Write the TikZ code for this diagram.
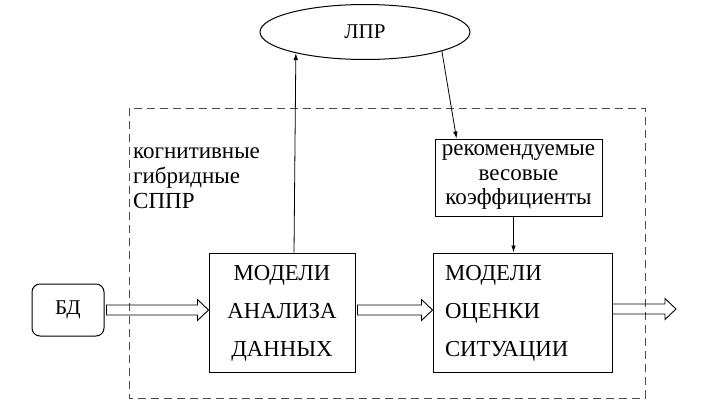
\documentclass[tikz,border=0pt]{standalone}
\usepackage{fontspec}
\setmainfont{Liberation Serif}
\usetikzlibrary{arrows.meta, calc, positioning, shapes.geometric}

\tikzset{
    block/.style={draw, line width=1pt, minimum height=116pt, inner sep=12pt,
        font=\fontsize{22.8}{38}\selectfont},
    thin arrow/.style={line width=0.8pt, -{Latex[length=7pt, width=4.5pt]}},
    hollow arrow/.style={draw, line width=0.9pt, line join=miter},
}

% outlined block arrow from #1 to #2 (horizontal)
\newcommand{\blockarrow}[2]{
    \draw[hollow arrow] let \p1=(#1), \p2=(#2) in
        (\x1,\y1+5pt) -- (\x2-11pt,\y1+5pt) -- (\x2-11pt,\y1+10.5pt) -- (\x2,\y1)
        -- (\x2-11pt,\y1-10.5pt) -- (\x2-11pt,\y1-5pt) -- (\x1,\y1-5pt) -- cycle;
}

\begin{document}
\begin{tikzpicture}[x=1pt, y=1pt, node distance=36pt]
    \useasboundingbox (0,0) rectangle (711,-415);

    % frame of the system
    \draw[black!70, line width=1pt, dash pattern=on 8pt off 5pt] (129,-108) rectangle (645,-398);
    \node[anchor=north west, align=left, inner sep=0pt, font=\fontsize{23}{25}\selectfont] (System) at (133,-147)
        {когнитивные\\гибридные\\СППР};

    \node[draw, line width=1pt, rounded corners=8pt, minimum width=72pt, minimum height=52pt,
        font=\fontsize{21}{25}\selectfont] (Database) at (68,-310) {БД};
    \node[block, right=104pt of Database, yshift=-3pt, text width=122pt, align=center] (Analysis Models)
        {МОДЕЛИ\\АНАЛИЗА\\ДАННЫХ};
    \node[block, right=77pt of Analysis Models, text width=155pt, align=left] (Assessment Models)
        {МОДЕЛИ\\ОЦЕНКИ\\СИТУАЦИИ};
    \node[draw, line width=1pt, above=36pt of Assessment Models, xshift=-4pt, text width=159pt,
        minimum height=77pt, inner sep=4pt, align=center, font=\fontsize{23}{24.5}\selectfont] (Weights)
        {рекомендуемые\\весовые\hspace*{28pt}\\коэффициенты};
    \node[draw, ellipse, line width=1pt, minimum width=210pt, minimum height=55pt,
        font=\fontsize{21}{25}\selectfont] (Decision Maker) at (365,-32) {ЛПР};

    \coordinate (Output) at (676,-309);

    \blockarrow{[xshift=2pt]Database.east}{Database.east -| Analysis Models.west}
    \blockarrow{[xshift=2pt]Database.east -| Analysis Models.east}{Database.east -| Assessment Models.west}
    \blockarrow{Output -| Assessment Models.east}{Output}

    \draw[thin arrow] ([xshift=12pt]Analysis Models.north) -- (Decision Maker.197);
    \draw[thin arrow] (Decision Maker.346) -- ([xshift=-62pt]Weights.north);
    \draw[thin arrow] ([xshift=-5pt]Weights.south) -- ([xshift=-5pt]Weights.south |- Assessment Models.north);
\end{tikzpicture}
\end{document}
